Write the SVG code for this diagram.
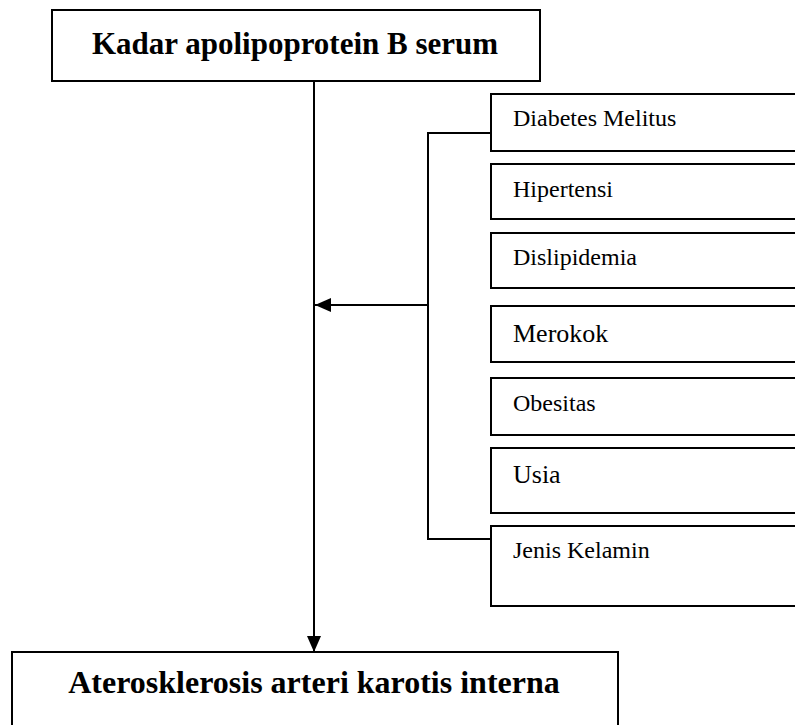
<svg xmlns="http://www.w3.org/2000/svg" width="795" height="725" viewBox="0 0 795 725">
<style>
rect{fill:#fff;stroke:#000;stroke-width:2}
.c{fill:none;stroke:#000;stroke-width:2}
text{font-family:"Liberation Serif","Times New Roman",serif;fill:#000}
.t{font-weight:bold;font-size:31px;text-anchor:middle}
.s{font-size:24px}
.m{font-size:26px}
</style>
<defs>
<marker id="ah" markerWidth="16" markerHeight="14" refX="16" refY="7" orient="auto" markerUnits="userSpaceOnUse">
<path d="M0,0 L16,7 L0,14 Z" fill="#000"/>
</marker>
</defs>
<rect width="795" height="725" style="stroke:none"/>
<g id="connectors">
<line class="c" x1="314" y1="81" x2="314" y2="652" marker-end="url(#ah)"/>
<polyline class="c" points="491,133 428,133 428,539 491,539"/>
<line class="c" x1="428" y1="305" x2="315" y2="305" marker-end="url(#ah)"/>
</g>
<g id="n-kadar"><rect x="52" y="10" width="488" height="71"/><text class="t" x="295" y="54">Kadar apolipoprotein B serum</text></g>
<g id="n-diabetes"><rect x="491" y="94" width="320" height="57"/><text class="s" x="513" y="126">Diabetes Melitus</text></g>
<g id="n-hipertensi"><rect x="491" y="164" width="320" height="55"/><text class="s" x="513" y="197">Hipertensi</text></g>
<g id="n-dislipidemia"><rect x="491" y="233" width="320" height="55"/><text class="s" x="513" y="265">Dislipidemia</text></g>
<g id="n-merokok"><rect x="491" y="306" width="320" height="56"/><text class="m" x="513" y="342">Merokok</text></g>
<g id="n-obesitas"><rect x="491" y="378" width="320" height="57"/><text class="s" x="513" y="411">Obesitas</text></g>
<g id="n-usia"><rect x="491" y="448" width="320" height="65"/><text class="m" x="513" y="483">Usia</text></g>
<g id="n-jenis"><rect x="491" y="526" width="320" height="80"/><text class="s" x="513" y="558">Jenis Kelamin</text></g>
<g id="n-ateros"><rect x="12" y="652" width="606" height="90"/><text class="t" x="314" y="693" style="font-size:32px">Aterosklerosis arteri karotis interna</text></g>
</svg>
